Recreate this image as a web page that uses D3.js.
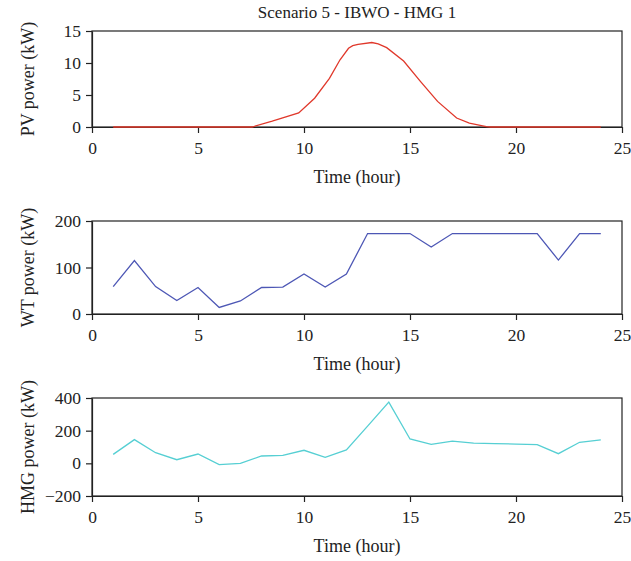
<!DOCTYPE html>
<html>
<head>
<meta charset="utf-8">
<script src="https://cdn.jsdelivr.net/npm/d3@7"></script>
<style>
	body { margin: 0; background: #fff; }
	text { font-family: "Liberation Serif", "Times New Roman", serif; fill: #222; }
</style>
</head>
<body>
<div id="chart"></div>
<script>
	// hourly data
	var hours = d3.range(1, 25);

	// PV curve is finer than hourly
	var pvTime = [1, 7.55, 8.5, 9.75, 10.5, 11.2, 11.7, 12.1, 12.3, 12.55, 13.2, 13.5, 13.9, 14.7, 15.5, 16.3, 17.2, 17.8, 18.6, 18.8, 24];
	var pvPower = [0, 0, 0.9, 2.2, 4.5, 7.6, 10.5, 12.3, 12.7, 12.9, 13.2, 13.0, 12.4, 10.3, 7.1, 4.0, 1.4, 0.6, 0.05, 0, 0];

	var wtPower = [59, 115, 59, 29, 57, 14, 28, 57, 58, 86, 58, 86, 173, 173, 173, 144, 173, 173, 173, 173, 173, 116, 173, 173];

	var hmgPower = [55, 145, 65, 22, 57, -8, 0, 45, 49, 80, 37, 82, 228, 375, 149, 116, 136, 124, 121, 118, 114, 59, 129, 143];

	var xTicks = [0, 5, 10, 15, 20, 25];
	var pvTicks = [0, 5, 10, 15];
	var wtTicks = [0, 100, 200];
	var hmgTicks = [-200, 0, 200, 400];

	var width = 631,
		height = 561;

	var svg = d3.select("#chart")
		.append("svg")
		.attr("width", width)
		.attr("height", height);

	var x = d3.scaleLinear().domain([0, 25]).range([92, 622]);

	svg.append("text")
		.attr("x", 357)
		.attr("y", 18)
		.attr("text-anchor", "middle")
		.style("font-size", "17px")
		.text("Scenario 5 - IBWO - HMG 1");

	function panel(top, bottom, yDomain, yTicks, label, xs, ys, color) {
		var y = d3.scaleLinear().domain(yDomain).range([bottom, top]);
		var g = svg.append("g");

		// frame
		g.append("rect")
			.attr("x", x(0))
			.attr("y", top)
			.attr("width", x(25) - x(0))
			.attr("height", bottom - top)
			.attr("fill", "none")
			.attr("stroke", "#222")
			.attr("stroke-width", 1.2);

		var xAxis = g.append("g")
			.attr("transform", "translate(0," + bottom + ")")
			.call(d3.axisBottom(x).tickValues(xTicks).tickSize(6).tickSizeOuter(0).tickPadding(9));
		var yAxis = g.append("g")
			.attr("transform", "translate(" + x(0) + ",0)")
			.call(d3.axisLeft(y).tickValues(yTicks).tickSize(6).tickSizeOuter(0).tickPadding(5)
				.tickFormat(function(d) { return d < 0 ? "\u2212" + Math.abs(d) : d; }));

		[xAxis, yAxis].forEach(function(a) {
			a.select(".domain").attr("stroke", "#222").attr("stroke-width", 1.2);
			a.selectAll(".tick line").attr("stroke", "#222").attr("stroke-width", 1.2);
			a.selectAll(".tick text")
				.style("font-family", "'Liberation Serif', serif")
				.style("font-size", "17.5px")
				.attr("fill", "#222");
		});

		g.append("text")
			.attr("x", (x(0) + x(25)) / 2)
			.attr("y", bottom + 56)
			.attr("text-anchor", "middle")
			.style("font-size", "18px")
			.text("Time (hour)");

		g.append("text")
			.attr("transform", "translate(34," + ((top + bottom) / 2) + ") rotate(-90)")
			.attr("text-anchor", "middle")
			.style("font-size", "18px")
			.text(label);

		var line = d3.line()
			.x(function(d, i) { return x(xs[i]); })
			.y(function(d) { return y(d); });

		g.append("path")
			.datum(ys)
			.attr("d", line)
			.attr("fill", "none")
			.attr("stroke", color)
			.attr("stroke-width", 1.3);
	}

	panel(31, 127, [0, 15], pvTicks, "PV power (kW)", pvTime, pvPower, "#e0382b");
	panel(221, 314, [0, 200], wtTicks, "WT power (kW)", hours, wtPower, "#4d57b5");
	panel(398, 496, [-200, 400], hmgTicks, "HMG power (kW)", hours, hmgPower, "#56cfd3");
</script>
</body>
</html>
